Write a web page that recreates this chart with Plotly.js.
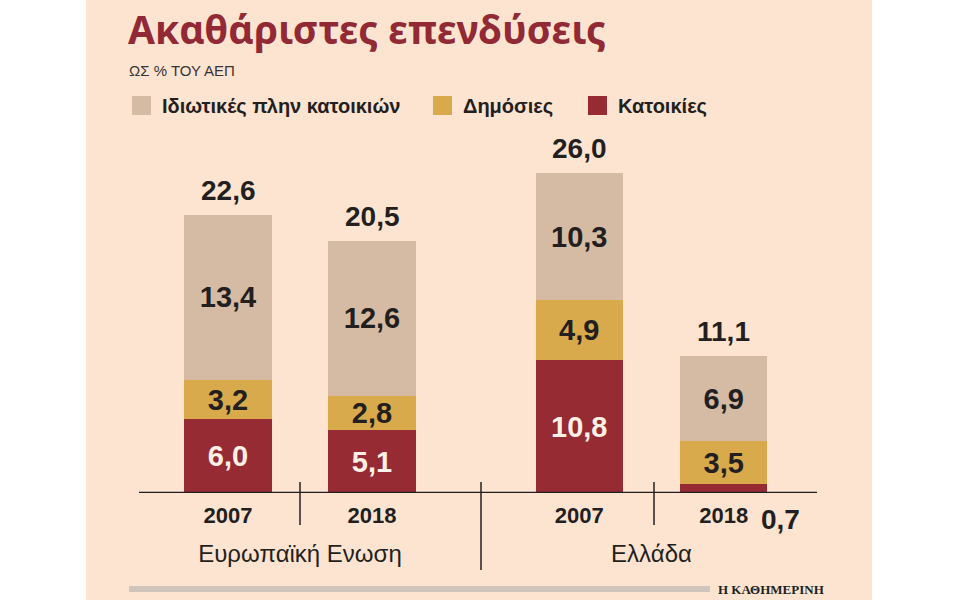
<!DOCTYPE html>
<html>
<head>
<meta charset="utf-8">
<script src="https://cdn.plot.ly/plotly-3.0.1.min.js"></script>
<style>html,body{margin:0;padding:0;background:#fff;}#chart{width:960px;height:600px;}</style>
</head>
<body>
<div id="chart"></div>
<script>
// ---- data ----
const years = ["2007", "2018"];
const groups = ["Ευρωπαϊκή Ενωση", "Ελλάδα"];
const seriesNames = ["Κατοικίες", "Δημόσιες", "Ιδιωτικές πλην κατοικιών"];
const housingEU = [6.0, 5.1];
const publicEU = [3.2, 2.8];
const privateEU = [13.4, 12.6];
const housingGR = [10.8, 0.7];
const publicGR = [4.9, 3.5];
const privateGR = [10.3, 6.9];
const totalsEU = [22.6, 20.5];
const totalsGR = [26.0, 11.1];

// ---- styling ----
const W = 960, H = 600;
const px = x => x / W;
const py = y => 1 - y / H;
const colors = ["#962b34", "#d9aa4c", "#d5bba3"];
const textColors = ["#fdf1e6", "#231f20", "#231f20"];
const SANS = "Liberation Sans, Arial, sans-serif";
const fmt = v => v.toFixed(1).replace(".", ",");

const euSeries = [housingEU, publicEU, privateEU];
const grSeries = [housingGR, publicGR, privateGR];

const traces = [];
function addTraces(series, xa) {
  series.forEach((vals, i) => {
    traces.push({
      type: "bar",
      x: years,
      y: vals,
      xaxis: xa,
      yaxis: "y",
      name: seriesNames[i],
      showlegend: false,
      marker: { color: colors[i], line: { width: 0 } },
      texttemplate: "%{y:.1f}",
      textposition: vals.map(v => v < 1.5 ? "none" : "inside"),
      insidetextanchor: "middle",
      constraintext: "none",
      textangle: 0,
      textfont: { family: SANS, size: 29, color: textColors[i], weight: "bold" },
      hoverinfo: "skip"
    });
  });
}
addTraces(euSeries, "x");
addTraces(grSeries, "x2");

const annotations = [];
// totals (category index positions)
[[totalsEU, "x"], [totalsGR, "x2"]].forEach(([tot, xa]) => {
  tot.forEach((t, j) => {
    annotations.push({
      xref: xa, yref: "y", x: j, y: t,
      text: "<b>" + fmt(t) + "</b>", showarrow: false,
      yanchor: "bottom", yshift: 7,
      font: { family: SANS, size: 28, color: "#231f20" }
    });
  });
});
// small value label outside (Greece 2018 housing)
annotations.push({
  xref: "x2", yref: "y", x: 1, y: 0,
  text: "<b>" + fmt(housingGR[1]) + "</b>", showarrow: false,
  xanchor: "center", yanchor: "middle", xshift: 57, yshift: -26,
  font: { family: SANS, size: 28, color: "#231f20" }
});
// title
annotations.push({
  xref: "paper", yref: "paper", x: px(126), y: 1,
  xanchor: "left", yanchor: "top", showarrow: false,
  text: "<b>Ακαθάριστες επενδύσεις</b>",
  font: { family: "Noto Sans, sans-serif", size: 39, color: "#922a36" }
});
// subtitle
annotations.push({
  xref: "paper", yref: "paper", x: px(127), y: py(70),
  xanchor: "left", yanchor: "middle", showarrow: false,
  text: "ΩΣ % ΤΟΥ ΑΕΠ",
  font: { family: SANS, size: 15, color: "#3a3435" }
});
// legend (custom)
const legendOrder = [2, 1, 0];
const legendX = [132, 433, 588];
const shapes = [];
legendOrder.forEach((si, k) => {
  shapes.push({
    type: "rect", xref: "paper", yref: "paper",
    x0: px(legendX[k]), x1: px(legendX[k] + 19),
    y0: py(115), y1: py(96),
    fillcolor: colors[si], line: { width: 0 }
  });
  annotations.push({
    xref: "paper", yref: "paper", x: px(legendX[k] + 28), y: py(106),
    xanchor: "left", yanchor: "middle", showarrow: false,
    text: "<b>" + seriesNames[si] + "</b>",
    font: { family: SANS, size: 20, color: "#231f20" }
  });
});
// footer
annotations.push({
  xref: "paper", yref: "paper", x: px(716), y: py(589),
  xanchor: "left", yanchor: "middle", showarrow: false,
  text: "<b>Η ΚΑΘΗΜΕΡΙΝΗ</b>",
  font: { family: "Liberation Serif, serif", size: 13, color: "#231f20" }
});

// background panel
shapes.unshift({
  type: "rect", xref: "paper", yref: "paper", layer: "below",
  x0: px(86), x1: px(872), y0: 0, y1: 1,
  fillcolor: "#fde4d1", line: { width: 0 }
});
// axis baseline
shapes.push({
  type: "line", xref: "paper", yref: "y", x0: px(139), x1: px(817), y0: 0, y1: 0,
  line: { color: "#231f20", width: 2.5 }
});
// dividers
[[300, 482, 525], [481, 482, 570], [654, 482, 525]].forEach(([x, y0, y1]) => {
  shapes.push({
    type: "line", xref: "paper", yref: "paper",
    x0: px(x), x1: px(x), y0: py(y0), y1: py(y1),
    line: { color: "#231f20", width: 1.5 }
  });
});
// footer rule
shapes.push({
  type: "line", xref: "paper", yref: "paper",
  x0: px(129), x1: px(710), y0: py(589), y1: py(589),
  line: { color: "#cfc5bd", width: 6 }
});

function xAxis(domain, group) {
  return {
    type: "category",
    categoryorder: "array",
    categoryarray: years,
    range: [-0.5, years.length - 0.5],
    autorange: false,
    domain: domain,
    anchor: "y",
    showgrid: false, zeroline: false, showline: false,
    ticks: "", fixedrange: true,
    ticklabelstandoff: 7,
    tickfont: { family: SANS, size: 22, color: "#231f20", weight: "bold" },
    title: { text: group, standoff: 18,
      font: { family: SANS, size: 24, color: "#231f20" } }
  };
}

const layout = {
  width: W, height: H,
  margin: { l: 0, r: 0, t: 0, b: 0, pad: 0 },
  paper_bgcolor: "#ffffff",
  plot_bgcolor: "rgba(0,0,0,0)",
  separators: ",.",
  barmode: "stack",
  bargap: 0.395,
  showlegend: false,
  xaxis: xAxis([px(156), px(444)], groups[0]),
  xaxis2: xAxis([px(507), px(796)], groups[1]),
  yaxis: {
    domain: [py(493), py(124)],
    range: [0, 30],
    autorange: false,
    visible: false, fixedrange: true
  },
  shapes: shapes,
  annotations: annotations
};

Plotly.newPlot("chart", traces, layout, { displayModeBar: false, staticPlot: true });
</script>
</body>
</html>
